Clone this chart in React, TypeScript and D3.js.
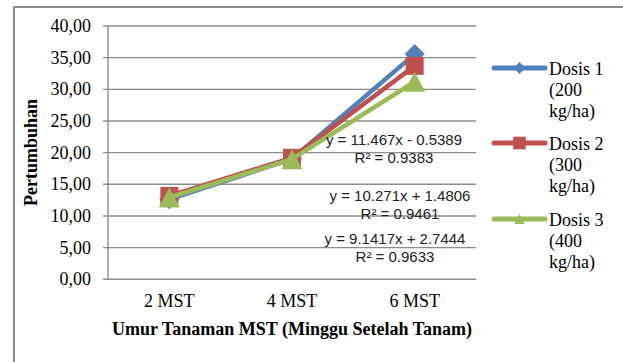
import React from "react";
import * as d3 from "d3";

const categories = ["2 MST", "4 MST", "6 MST"];
const seriesNames = ["Dosis 1", "Dosis 2", "Dosis 3"];
const legendLines = [
  ["Dosis 1", "(200", "kg/ha)"],
  ["Dosis 2", "(300", "kg/ha)"],
  ["Dosis 3", "(400", "kg/ha)"],
];
const dosis1 = [12.63, 19.0, 35.56];
const dosis2 = [13.17, 19.19, 33.71];
const dosis3 = [12.92, 18.97, 31.2];
const yTicks = [0, 5, 10, 15, 20, 25, 30, 35, 40];
const equations = [
  ["y = 11.467x - 0.5389", "R² = 0.9383"],
  ["y = 10.271x + 1.4806", "R² = 0.9461"],
  ["y = 9.1417x + 2.7444", "R² = 0.9633"],
];

const colors = ["#4F81BD", "#C0504D", "#9BBB59"];
const markers = ["diamond", "square", "triangle"];

function Marker({ type, cx, cy, color, s }: { type: string; cx: number; cy: number; color: string; s: number }) {
  if (type === "diamond") {
    const h = s / 2;
    return <path d={`M${cx},${cy - h}L${cx + h},${cy}L${cx},${cy + h}L${cx - h},${cy}Z`} fill={color} />;
  }
  if (type === "square") {
    const h = s * 0.45;
    return <rect x={cx - h} y={cy - h} width={2 * h} height={2 * h} fill={color} />;
  }
  const h = s / 2;
  return <path d={`M${cx},${cy - h}L${cx + h * 1.05},${cy + h}L${cx - h * 1.05},${cy + h}Z`} fill={color} />;
}

export default function App() {
  const W = 623, H = 362;
  const x = d3.scalePoint<string>().domain(categories).range([108, 476]).padding(0.5);
  const y = d3.scaleLinear().domain([0, 40]).range([279.3, 26]);
  const data = [dosis1, dosis2, dosis3];
  const line = d3.line<number>().x((_, i) => x(categories[i])!).y((d) => y(d));
  const fmt = (v: number) => v.toFixed(2).replace(".", ",");
  const eqPos = [
    { cx: 394, b1: 145, b2: 163 },
    { cx: 400, b1: 201, b2: 219 },
    { cx: 395, b1: 244, b2: 262 },
  ];
  const legendY = [68, 143, 219];
  const serif = "'Liberation Serif', 'Times New Roman', serif";
  const sans = "'Liberation Sans', Arial, sans-serif";
  return (
    <svg width={W} height={H} style={{ position: "absolute", left: 0, top: 0, background: "#fff" }}>
      <rect x={0} y={0} width={W} height={H} fill="#fff" />
      <rect x={14} y={7} width={640} height={400} fill="none" stroke="#8a8a8a" strokeWidth={2} />
      {yTicks.map((t) => (
        <g key={t}>
          <line x1={103} x2={476} y1={y(t)} y2={y(t)} stroke="#8c8c8c" strokeWidth={1.4} />
          <text x={91} y={y(t) + 6} textAnchor="end" fontFamily={serif} fontSize={18} fill="#000">
            {fmt(t)}
          </text>
        </g>
      ))}
      <line x1={108} x2={108} y1={y(40)} y2={y(0)} stroke="#8c8c8c" strokeWidth={1.4} />
      {categories.map((c) => (
        <text key={c} x={x(c)} y={307} textAnchor="middle" fontFamily={serif} fontSize={18} fill="#000">
          {c}
        </text>
      ))}
      <text x={292} y={335} textAnchor="middle" fontFamily={serif} fontSize={18} fontWeight="bold" fill="#000">
        Umur Tanaman MST (Minggu Setelah Tanam)
      </text>
      <text
        transform={`translate(37,152.5) rotate(-90)`}
        textAnchor="middle"
        fontFamily={serif}
        fontSize={18}
        fontWeight="bold"
        fill="#000"
      >
        Pertumbuhan
      </text>
      {data.map((d, si) => (
        <g key={seriesNames[si]}>
          <path d={line(d) || ""} fill="none" stroke={colors[si]} strokeWidth={4.5} strokeLinejoin="round" strokeLinecap="round" />
          {d.map((v, i) => (
            <Marker key={i} type={markers[si]} cx={x(categories[i])!} cy={y(v)} color={colors[si]} s={20} />
          ))}
        </g>
      ))}
      {equations.map((eq, i) => (
        <g key={i} fontFamily={sans} fontSize={15} fill="#222" textAnchor="middle">
          <text x={eqPos[i].cx} y={eqPos[i].b1}>{eq[0]}</text>
          <text x={eqPos[i].cx} y={eqPos[i].b2}>{eq[1]}</text>
        </g>
      ))}
      {seriesNames.map((n, i) => (
        <g key={n}>
          <line x1={494} x2={545} y1={legendY[i]} y2={legendY[i]} stroke={colors[i]} strokeWidth={5} strokeLinecap="round" />
          <Marker type={markers[i]} cx={519.5} cy={legendY[i]} color={colors[i]} s={i === 0 ? 12 : i === 1 ? 14 : 10} />
          {legendLines[i].map((t, j) => (
            <text key={j} x={549} y={legendY[i] + 7 + j * 21} fontFamily={serif} fontSize={18} fill="#000">
              {t}
            </text>
          ))}
        </g>
      ))}
    </svg>
  );
}
